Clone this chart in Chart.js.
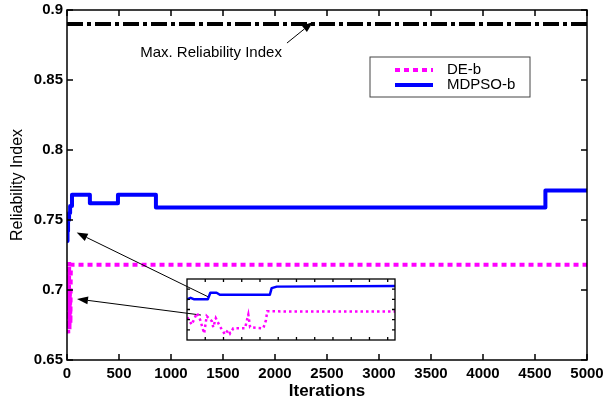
<!DOCTYPE html>
<html>
<head>
<meta charset="utf-8">
<script src="https://cdn.jsdelivr.net/npm/chart.js@4"></script>
<style>
  html, body { margin: 0; padding: 0; background: #fff; }
  #wrap  { position: relative; width: 604px; height: 400px; }
  #main  { position: absolute; left: 0; top: 0; }
  #inset { position: absolute; left: 185px; top: 277px; }
</style>
</head>
<body>
<div id="wrap">
  <canvas id="main" width="604" height="400"></canvas>
  <canvas id="inset" width="212" height="65"></canvas>
</div>
<script>
// ── DATA ─────────────────────────────────────────
const xTickStep = 500;
const yTicks    = [0.65, 0.7, 0.75, 0.8, 0.85, 0.9];

const maxIter = [0, 5000];
const maxVal  = [0.89, 0.89];

const deIter = [0, 3, 6, 9, 12, 15, 18, 21, 24, 27, 30, 33, 36, 40, 5000];
const deVal  = [0.705, 0.69, 0.715, 0.68, 0.669, 0.71, 0.685, 0.72, 0.672, 0.70, 0.69, 0.676, 0.712, 0.718, 0.718];

const mdIter = [0, 5, 10, 20, 30, 48, 220, 490, 855, 4600, 5000];
const mdVal  = [0.735, 0.742, 0.75, 0.755, 0.76, 0.768, 0.762, 0.768, 0.759, 0.771, 0.771];

// inset (zoom of the first iterations)
const insetXTicks = [5, 10, 15, 20, 25, 30, 35, 40, 45, 50, 55];
const insetYTicks = [0.682, 0.702, 0.722, 0.742, 0.762];

const inBlueX = [0, 1, 2, 5.7, 6.4, 8.1, 9.0, 22.7, 23.2, 24.6, 57];
const inBlueY = [0.742, 0.745, 0.742, 0.742, 0.755, 0.755, 0.751, 0.751, 0.764, 0.767, 0.768];

const inMagX = [0.1, 1.3, 2.7, 3.6, 4.7, 5.4, 6.8, 7.2, 7.9, 9.0, 10.4, 11.3, 11.8, 12.7, 15.9, 16.8, 17.3, 20.9, 21.6, 22.0, 28.2, 57];
const inMagY = [0.7066, 0.692, 0.715, 0.702, 0.675, 0.709, 0.699, 0.687, 0.705, 0.689, 0.673, 0.682, 0.675, 0.685, 0.685, 0.712, 0.687, 0.685, 0.700, 0.7186, 0.718, 0.718];

// annotations, in data coordinates
const noteText = "Max. Reliability Index";
const notePos  = [1385, 0.8693];
const arrowFrom = [[2115, 0.8764], [1361, 0.695], [1288, 0.6821]];
const arrowTo   = [[2365, 0.8914], [93, 0.741], [96, 0.6936]];

// ── HELPERS ──────────────────────────────────────
const FONT = "'Liberation Sans', Arial, Helvetica, sans-serif";
const pts  = (xs, ys) => xs.map((x, i) => ({ x, y: ys[i] }));

function drawFrame(chart, xt, yt, len, lw) {
  const { ctx, chartArea: a, scales: { x, y } } = chart;
  ctx.save();
  ctx.strokeStyle = "#000";
  ctx.lineWidth   = lw;
  ctx.beginPath();
  xt.forEach(v => {
    const px = x.getPixelForValue(v);
    ctx.moveTo(px, a.bottom); ctx.lineTo(px, a.bottom - len);
    ctx.moveTo(px, a.top);    ctx.lineTo(px, a.top + len);
  });
  yt.forEach(v => {
    const py = y.getPixelForValue(v);
    ctx.moveTo(a.left, py);  ctx.lineTo(a.left + len, py);
    ctx.moveTo(a.right, py); ctx.lineTo(a.right - len, py);
  });
  ctx.stroke();
  ctx.strokeRect(a.left, a.top, a.right - a.left, a.bottom - a.top);
  ctx.restore();
}

function arrow(ctx, x0, y0, x1, y1) {
  const ang = Math.atan2(y1 - y0, x1 - x0), hl = 11, hw = 4;
  ctx.beginPath();
  ctx.moveTo(x0, y0);
  ctx.lineTo(x1 - hl * Math.cos(ang), y1 - hl * Math.sin(ang));
  ctx.stroke();
  ctx.beginPath();
  ctx.moveTo(x1, y1);
  ctx.lineTo(x1 - hl * Math.cos(ang) + hw * Math.sin(ang), y1 - hl * Math.sin(ang) - hw * Math.cos(ang));
  ctx.lineTo(x1 - hl * Math.cos(ang) - hw * Math.sin(ang), y1 - hl * Math.sin(ang) + hw * Math.cos(ang));
  ctx.closePath();
  ctx.fill();
}

// ── MAIN CHART PLUGIN: frame, legend, notes ──────
const mainDeco = {
  id: "mainDeco",
  afterDatasetsDraw(chart) {
    const { ctx, chartArea: a, scales: { x, y } } = chart;
    drawFrame(chart, x.ticks.map(t => t.value), yTicks, 6, 1.5);

    // legend
    const lx = a.left + 303, ly = a.top + 47, lw = 160, lh = 40;
    ctx.save();
    ctx.fillStyle = "#fff";
    ctx.fillRect(lx, ly, lw, lh);
    ctx.strokeStyle = "#444";
    ctx.lineWidth = 1;
    ctx.strokeRect(lx, ly, lw, lh);
    chart.data.datasets.filter(d => d.inLegend).forEach((d, i) => {
      const ry = ly + 13 + i * 15;
      ctx.strokeStyle = d.borderColor;
      ctx.lineWidth   = d.borderWidth;
      ctx.setLineDash(d.borderDash || []);
      ctx.beginPath();
      ctx.moveTo(lx + 25, ry);
      ctx.lineTo(lx + 63, ry);
      ctx.stroke();
      ctx.setLineDash([]);
      ctx.fillStyle = "#000";
      ctx.font = "15px " + FONT;
      ctx.textBaseline = "middle";
      ctx.fillText(d.label, lx + 77, ry);
    });

    // note + arrows
    ctx.fillStyle = "#000";
    ctx.strokeStyle = "#000";
    ctx.lineWidth = 1;
    ctx.font = "15px " + FONT;
    ctx.textAlign = "center";
    ctx.textBaseline = "middle";
    ctx.fillText(noteText, x.getPixelForValue(notePos[0]), y.getPixelForValue(notePos[1]));
    arrowFrom.forEach((f, i) => {
      const t = arrowTo[i];
      arrow(ctx, x.getPixelForValue(f[0]), y.getPixelForValue(f[1]),
                 x.getPixelForValue(t[0]), y.getPixelForValue(t[1]));
    });
    ctx.restore();
  },
};

new Chart(document.getElementById("main"), {
  type: "line",
  data: {
    datasets: [
      {
        label: "Max", data: pts(maxIter, maxVal),
        borderColor: "#000", borderWidth: 4, borderDash: [16, 4, 4, 4],
        pointRadius: 0, inLegend: false,
      },
      {
        label: "DE-b", data: pts(deIter, deVal),
        borderColor: "#ff00ff", borderWidth: 4, borderDash: [5, 4],
        pointRadius: 0, inLegend: true,
      },
      {
        label: "MDPSO-b", data: pts(mdIter, mdVal),
        borderColor: "#0000ff", borderWidth: 4, stepped: true,
        borderJoinStyle: "round", pointRadius: 0, inLegend: true,
      },
    ],
  },
  options: {
    responsive: false,
    animation: false,
    devicePixelRatio: 1,
    layout: { padding: { top: 10, right: 17, left: 0, bottom: 0 } },
    plugins: { legend: { display: false }, tooltip: { enabled: false } },
    scales: {
      x: {
        type: "linear", min: 0, max: 5000,
        grid: { display: false, drawTicks: false }, border: { display: false },
        ticks: { stepSize: xTickStep, color: "#000", padding: 5,
                 font: { family: FONT, size: 15, weight: "bold" },
                 callback: v => String(v) },
        title: { display: true, text: "Iterations", color: "#000",
                 font: { family: FONT, size: 17, weight: "bold", lineHeight: 1 },
                 padding: { top: 0, bottom: 0.5 } },
        afterFit: s => { s.height = 40; s.paddingLeft = 0; s.paddingRight = 0; },
      },
      y: {
        type: "linear", min: 0.65, max: 0.9,
        grid: { display: false, drawTicks: false }, border: { display: false },
        afterBuildTicks: s => { s.ticks = yTicks.map(v => ({ value: v })); },
        ticks: { color: "#000", padding: 4,
                 font: { family: FONT, size: 15, weight: "bold" },
                 callback: v => String(+(+v).toFixed(2)) },
        title: { display: true, text: "Reliability Index", color: "#000",
                 font: { family: FONT, size: 16 },
                 padding: { top: 8, bottom: 0 } },
        afterFit: s => { s.width = 67; s.paddingTop = 0; s.paddingBottom = 0; },
      },
    },
  },
  plugins: [mainDeco],
});

// ── INSET ────────────────────────────────────────
const insetDeco = {
  id: "insetDeco",
  afterDatasetsDraw(chart) { drawFrame(chart, insetXTicks, insetYTicks, 3, 1.3); },
};

new Chart(document.getElementById("inset"), {
  type: "line",
  data: {
    datasets: [
      {
        data: pts(inBlueX, inBlueY),
        borderColor: "#0000ff", borderWidth: 2.5, pointRadius: 0,
        borderJoinStyle: "round",
      },
      {
        data: pts(inMagX, inMagY),
        borderColor: "#ff00ff", borderWidth: 2.5, borderDash: [2.5, 3],
        pointRadius: 0,
      },
    ],
  },
  options: {
    responsive: false,
    animation: false,
    devicePixelRatio: 1,
    layout: { padding: 2 },
    plugins: { legend: { display: false }, tooltip: { enabled: false } },
    scales: {
      x: { type: "linear", min: 0, max: 57, display: false },
      y: { type: "linear", min: 0.662, max: 0.782, display: false },
    },
  },
  plugins: [insetDeco],
});
</script>
</body>
</html>
